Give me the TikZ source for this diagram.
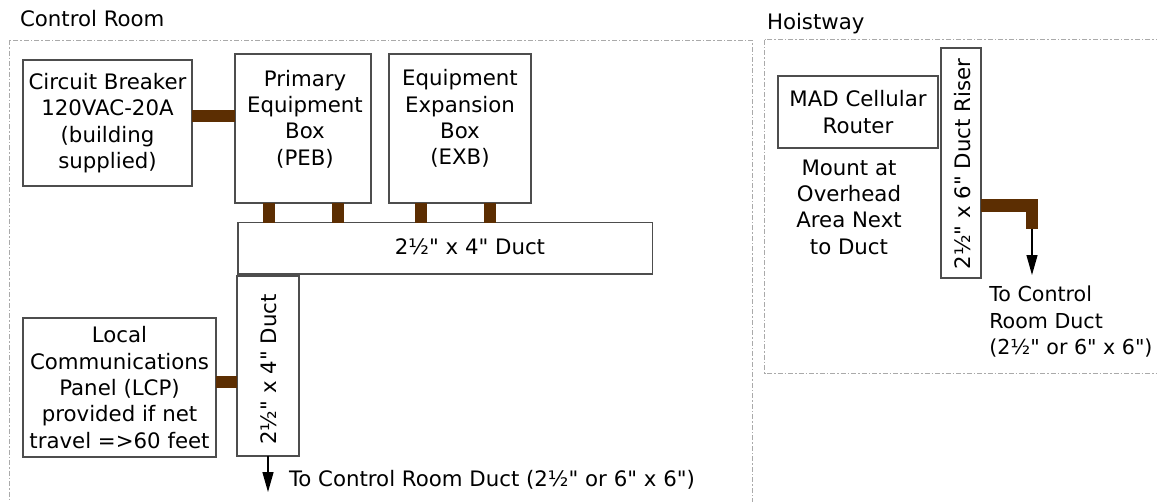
\documentclass[tikz,border=0pt]{standalone}
\usepackage{fontspec}
\setmainfont{DejaVu Sans}[Ligatures=TeXOff]
\usetikzlibrary{arrows.meta}
\definecolor{pipebrown}{RGB}{92,46,2}
\definecolor{boxline}{RGB}{77,77,77}
\definecolor{zoneline}{RGB}{170,170,170}

\begin{document}
\begin{tikzpicture}[x=1pt,y=-1pt,
  every node/.style={inner sep=0pt, outer sep=0pt},
  txt/.style={font=\fontsize{21.3}{26.3}\selectfont, align=center},
  box/.style={draw=boxline, line width=1.3pt, fill=white, txt},
  zone/.style={draw=zoneline, line width=1pt, dash pattern=on 5pt off 2pt on 1.5pt off 2pt},
  pipe/.style={draw=pipebrown, line width=12.5pt, line cap=butt, line join=miter},
  feed/.style={draw=black, line width=1.3pt, -{Triangle[length=20pt,width=11pt]}},
]
\useasboundingbox (0,0) rectangle (1157,501);
\clip (0,0) rectangle (1157,501);
\fill[white] (0,0) rectangle (1157,501);

% room outlines
\draw[zone] (9,40) rectangle (752,530);
\draw[zone] (764.5,39.5) rectangle (1175,373);
\node[txt, anchor=base west] (crlabel) at (20,26.5) {Control Room};
\node[txt, anchor=base west] (hwlabel) at (767,29.3) {Hoistway};

% control room equipment
\node[box, minimum width=169pt, minimum height=126pt] (cb) at (107.5,123)
  {Circuit Breaker\\120VAC-20A\\(building\\supplied)};
\node[box, minimum width=136pt, minimum height=149pt] (peb) at (303,128.5) {};
\node[txt] (pebtxt) at (305,119) {Primary\\Equipment\\Box\\(PEB)};
\node[box, minimum width=142pt, minimum height=149pt] (exb) at (460,128.5) {};
\node[txt] (exbtxt) at (460,118.5) {Equipment\\Expansion\\Box\\(EXB)};
\node[box, minimum width=414.5pt, minimum height=51.5pt] (hduct) at (445.25,248.25) {};
\node[txt] (hducttxt) at (470,247) {2½" x 4" Duct};
\node[box, minimum width=62pt, minimum height=180pt] (vduct) at (268,366) {};
\node[txt, rotate=90] (vducttxt) at (268.5,369.5) {2½" x 4" Duct};
\node[box, minimum width=193pt, minimum height=139pt] (lcp) at (119.5,387.5)
  {Local\\Communications\\Panel (LCP)\\provided if net\\travel =>60 feet};

% conduits in the control room
\draw[pipe] ([yshift=7pt]cb.east) -- ([yshift=7pt]cb.east -| peb.west);
\draw[pipe] ([xshift=-34pt]peb.south) -- ([xshift=-34pt]peb.south |- hduct.north);
\draw[pipe] ([xshift=35pt]peb.south) -- ([xshift=35pt]peb.south |- hduct.north);
\draw[pipe] ([xshift=-39pt]exb.south) -- ([xshift=-39pt]exb.south |- hduct.north);
\draw[pipe] ([xshift=30pt]exb.south) -- ([xshift=30pt]exb.south |- hduct.north);
\draw[pipe] ([yshift=5.5pt]lcp.east) -- ([yshift=5.5pt]lcp.east -| vduct.west);

\coordinate (vend) at (268,492);
\draw[feed] (vduct.south) -- (vend);
\node[txt, anchor=base west] (ductnote) at (289,486.7) {To Control Room Duct (2½" or 6" x 6")};

% hoistway equipment
\node[box, minimum width=160pt, minimum height=72pt] (router) at (858,112) {MAD Cellular\\Router};
\node[txt] (mount) at (849,207) {Mount at\\Overhead\\Area Next\\to Duct};
\node[box, minimum width=40pt, minimum height=230pt] (riser) at (961,163) {};
\node[txt, rotate=90] (risertxt) at (962.5,164) {2½" x 6" Duct Riser};

\coordinate (bend) at (1032,205.5);
\coordinate (drop) at (1032,228.5);
\coordinate (hend) at (1032,275);
\draw[pipe] ([yshift=-42.5pt]riser.east) -- (bend) -- (drop);
\draw[feed] (drop) -- (hend);
\node[txt, font=\fontsize{20.6}{26.6}\selectfont, align=left, anchor=west] (hoistnote) at (989.3,321.6)
  {To Control\\Room Duct\\(2½" or 6" x 6")};
\end{tikzpicture}
\end{document}
